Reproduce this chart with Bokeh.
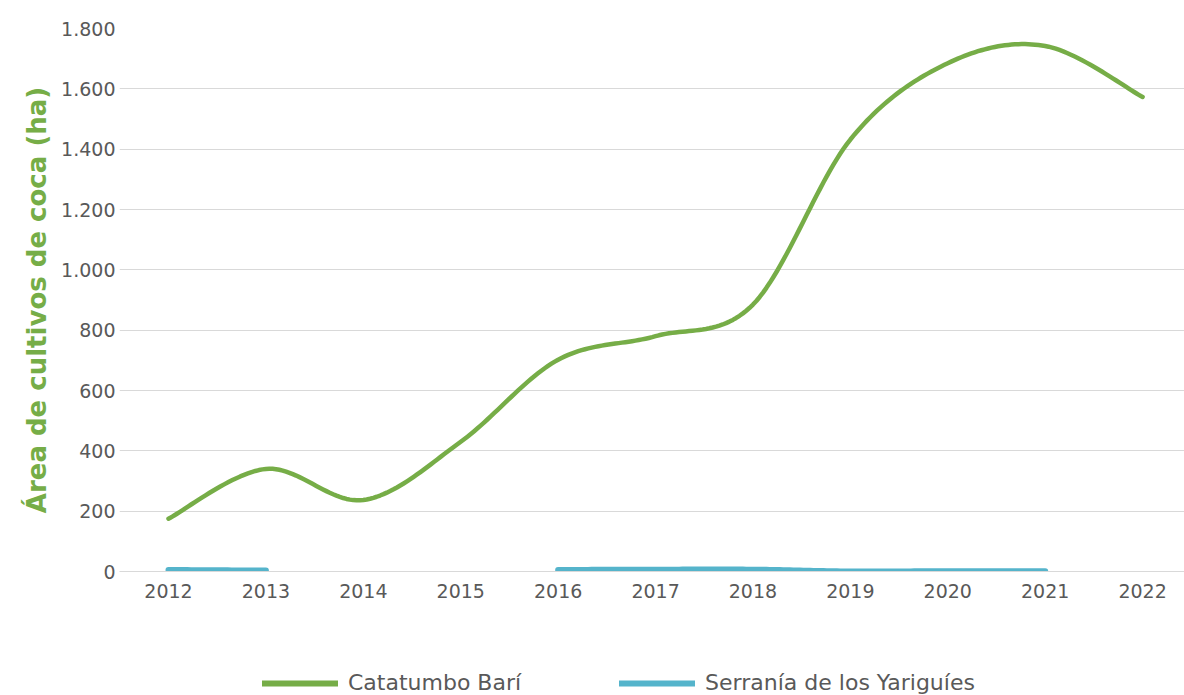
import numpy as np
from bokeh.plotting import figure
from bokeh.layouts import column
from bokeh.models import (FixedTicker, CustomJSTickFormatter, Legend, LegendItem, Range1d)
from bokeh.embed import file_html
from bokeh.resources import INLINE

# ---- data ----
years = [2012, 2013, 2014, 2015, 2016, 2017, 2018, 2019, 2020, 2021, 2022]
year_labels = ["2012", "2013", "2014", "2015", "2016", "2017", "2018", "2019", "2020", "2021", "2022"]
catatumbo = [175, 340, 237, 430, 702, 780, 885, 1432, 1685, 1742, 1573]
yariguies = [5, 3, None, None, 5, 6, 6, 0, 1, 1, None]
series_names = ["Catatumbo Barí", "Serranía de los Yariguíes"]

GREEN = "#76AD47"
BLUE = "#55B4CB"
TXT = "#595959"
FONT = "DejaVu Sans"


def smooth(xs, ys, n=30):
    """Cardinal/Catmull-Rom style smoothing (like a spreadsheet's smoothed line)."""
    xs = np.asarray(xs, float)
    ys = np.asarray(ys, float)
    if len(xs) < 2:
        return xs, ys
    px = np.concatenate([[xs[0]], xs, [xs[-1]]])
    py = np.concatenate([[ys[0]], ys, [ys[-1]]])
    ox, oy = [], []
    t = np.linspace(0, 1, n)
    for i in range(1, len(px) - 2):
        p0x, p1x, p2x, p3x = px[i - 1], px[i], px[i + 1], px[i + 2]
        p0y, p1y, p2y, p3y = py[i - 1], py[i], py[i + 1], py[i + 2]
        c1x = p1x + (p2x - p0x) / 6
        c1y = p1y + (p2y - p0y) / 6
        c2x = p2x - (p3x - p1x) / 6
        c2y = p2y - (p3y - p1y) / 6
        bx = (1 - t) ** 3 * p1x + 3 * (1 - t) ** 2 * t * c1x + 3 * (1 - t) * t ** 2 * c2x + t ** 3 * p2x
        by = (1 - t) ** 3 * p1y + 3 * (1 - t) ** 2 * t * c1y + 3 * (1 - t) * t ** 2 * c2y + t ** 3 * p2y
        ox.extend(bx if i == 1 else bx[1:])
        oy.extend(by if i == 1 else by[1:])
    return np.array(ox), np.array(oy)


def segments(xs, ys):
    segs, cur = [], []
    for x, y in zip(xs, ys):
        if y is None:
            if cur:
                segs.append(cur)
            cur = []
        else:
            cur.append((x, y))
    if cur:
        segs.append(cur)
    return segs


p = figure(frame_width=1065, frame_height=543, output_backend="svg", toolbar_location=None,
           x_range=Range1d(2011.497, 2022.43), y_range=Range1d(0, 1800),
           min_border_left=119, min_border_right=0, min_border_top=28, min_border_bottom=40)
p.outline_line_color = None
p.background_fill_color = "white"
p.border_fill_color = "white"

# lines
gx, gy = smooth(years, catatumbo)
p.line(gx, gy, line_color=GREEN, line_width=4.5, line_cap="round", line_join="round")
for seg in segments(years, yariguies):
    sx, sy = smooth([s[0] for s in seg], [s[1] for s in seg])
    p.line(sx, sy, line_color=BLUE, line_width=6, line_cap="round", line_join="round")

# axes
p.xgrid.visible = False
p.ygrid.grid_line_color = "#D9D9D9"
p.ygrid.grid_line_width = 1
p.ygrid.ticker = FixedTicker(ticks=list(range(0, 1801, 200)))

p.yaxis.ticker = FixedTicker(ticks=list(range(0, 1801, 200)))
p.yaxis.formatter = CustomJSTickFormatter(code="""
return tick.toFixed(0).replace(/\\B(?=(\\d{3})+(?!\\d))/g, ".");
""")
p.yaxis.axis_line_color = None
p.yaxis.major_tick_line_color = None
p.yaxis.major_tick_out = 0
p.yaxis.minor_tick_line_color = None
p.yaxis.major_label_text_font = FONT
p.yaxis.major_label_text_font_size = "19px"
p.yaxis.major_label_text_color = TXT
p.yaxis.major_label_standoff = 4
p.yaxis.axis_label = "Área de cultivos de coca (ha)"
p.yaxis.axis_label_text_font = FONT
p.yaxis.axis_label_text_font_style = "bold"
p.yaxis.axis_label_text_font_size = "26px"
p.yaxis.axis_label_text_color = GREEN
p.yaxis.axis_label_standoff = 6

p.xaxis.ticker = FixedTicker(ticks=years)
p.xaxis.major_label_overrides = {y: l for y, l in zip(years, year_labels)}
p.xaxis.axis_line_color = "#D9D9D9"
p.xaxis.major_tick_line_color = None
p.xaxis.major_tick_out = 0
p.xaxis.minor_tick_line_color = None
p.xaxis.major_label_text_font = FONT
p.xaxis.major_label_text_font_size = "19px"
p.xaxis.major_label_text_color = TXT
p.xaxis.major_label_standoff = 12

# legend strip below the chart (proxy renderers lie outside its visible range)
leg = figure(width=1184, height=84, output_backend="svg", toolbar_location=None,
             x_range=Range1d(0, 1), y_range=Range1d(0, 1),
             x_axis_location=None, y_axis_location=None,
             min_border_left=0, min_border_right=0, min_border_top=0, min_border_bottom=0)
leg.outline_line_color = None
leg.grid.visible = False
lg_green = leg.line(x=[-10, -9], y=[-10, -10], line_color=GREEN, line_width=6, line_cap="round")
lg_blue = leg.line(x=[-10, -9], y=[-10, -10], line_color=BLUE, line_width=6, line_cap="round")

legend = Legend(items=[LegendItem(label=series_names[0], renderers=[lg_green]),
                       LegendItem(label=series_names[1], renderers=[lg_blue])],
                orientation="horizontal", location=(143, 0),
                glyph_width=76, glyph_height=20, label_standoff=10, spacing=98,
                padding=0, margin=0, border_line_color=None, background_fill_alpha=0,
                label_text_font=FONT, label_text_font_size="22px", label_text_color=TXT)
leg.add_layout(legend, "center")

layout = column(p, leg, spacing=0)
open("out.html", "w").write(file_html(layout, INLINE))
